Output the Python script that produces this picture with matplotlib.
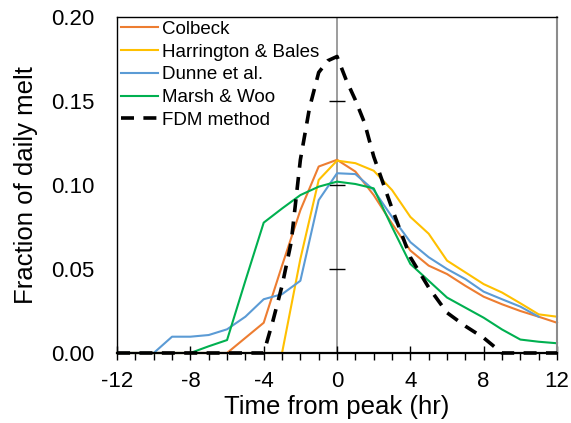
import matplotlib.pyplot as plt
import numpy as np

plt.rcParams['font.family'] = ['Liberation Sans', 'DejaVu Sans']

hours = list(range(-12, 13))
colbeck = [0, 0, 0, 0, 0, 0, 0, 0.009, 0.018, 0.052, 0.085, 0.111, 0.115,
           0.108, 0.094, 0.077, 0.061, 0.052, 0.047, 0.040, 0.0335, 0.029, 0.025, 0.0216, 0.018]
harrington = [0, 0, 0, 0, 0, 0, 0, 0, 0, 0, 0.056, 0.103, 0.1145,
              0.113, 0.1085, 0.097, 0.081, 0.071, 0.055, 0.048, 0.041, 0.036, 0.0296, 0.023, 0.0216]
dunne = [0, 0, 0, 0.0097, 0.0097, 0.0107, 0.0141, 0.0216, 0.032, 0.035, 0.043, 0.091, 0.107,
         0.1065, 0.097, 0.081, 0.066, 0.057, 0.050, 0.044, 0.0365, 0.032, 0.0276, 0.0216, np.nan]
marsh = [0, 0, 0, 0, 0, 0.004, 0.0077, 0.043, 0.0776, 0.086, 0.094, 0.099, 0.102,
         0.1006, 0.098, 0.075, 0.053, 0.043, 0.033, 0.027, 0.021, 0.014, 0.008, 0.0067, 0.0058]

fdm_hours = [-12, -4, -3.5, -3, -2.5, -2, -1.5, -1, -0.5, 0, 0.5, 1, 1.5, 2,
             3, 4, 5, 6, 7, 8, 9, 12]
fdm = [0, 0, 0.019, 0.040, 0.066, 0.115, 0.146, 0.167, 0.174, 0.1765, 0.1625, 0.1506, 0.137, 0.117,
       0.086, 0.057, 0.039, 0.024, 0.016, 0.009, 0, 0]

fig = plt.figure(figsize=(5.71, 4.23), dpi=100)
ax = fig.add_axes([0.205, 0.1655, 0.7705, 0.7943])

ax.plot(hours, colbeck, color='#ED7D31', lw=1.5, label='Colbeck', clip_on=False)
ax.plot(hours, harrington, color='#FFC000', lw=1.5, label='Harrington & Bales', clip_on=False)
ax.plot(hours, dunne, color='#5B9BD5', lw=1.5, label='Dunne et al.', clip_on=False)
ax.plot(hours, marsh, color='#00B050', lw=1.5, label='Marsh & Woo', clip_on=False)
ax.plot(fdm_hours, fdm, color='black', lw=2.6, ls=(0, (3.6, 2.6)), label='FDM method',
        clip_on=False, zorder=5)

# vertical line at peak with its own y ticks
ax.axvline(0, color='#8c8c8c', lw=1.2, zorder=1)
yt = [0.05, 0.10, 0.15]
ax.plot([0] * len(yt), yt, ls='none', marker='_', ms=12, mew=1, color='black', zorder=1)

ax.set_xlim(-12, 12)
ax.set_ylim(0, 0.20)
ax.set_xticks(range(-12, 13, 4))
ax.set_xticks(range(-12, 13), minor=True)
ax.set_xticklabels([str(v) for v in range(-12, 13, 4)])
ax.set_yticks([0, 0.05, 0.10, 0.15, 0.20])
ax.set_yticklabels(['0.00', '0.05', '0.10', '0.15', '0.20'])
ax.tick_params(axis='x', which='major', direction='inout', length=10, width=1, labelsize=16, pad=8)
ax.tick_params(axis='x', which='minor', direction='out', length=5, width=1)
ax.tick_params(axis='y', length=0, labelsize=16, pad=16)

for s in ['left', 'top']:
    ax.spines[s].set_color('black')
    ax.spines[s].set_linewidth(1)
ax.spines['bottom'].set_linewidth(1.6)
ax.spines['right'].set_color('#8c8c8c')
ax.spines['right'].set_linewidth(1.5)

ax.set_xlabel('Time from peak (hr)', fontsize=18.5, labelpad=2)
ax.set_ylabel('Fraction of daily melt', fontsize=18.5, labelpad=10)

ax.legend(loc='upper left', frameon=False, fontsize=13.5, handlelength=2.0,
          labelspacing=0.3, borderaxespad=0.1, handletextpad=0.2, borderpad=0.1)

fig.savefig('out.png', dpi=100)
